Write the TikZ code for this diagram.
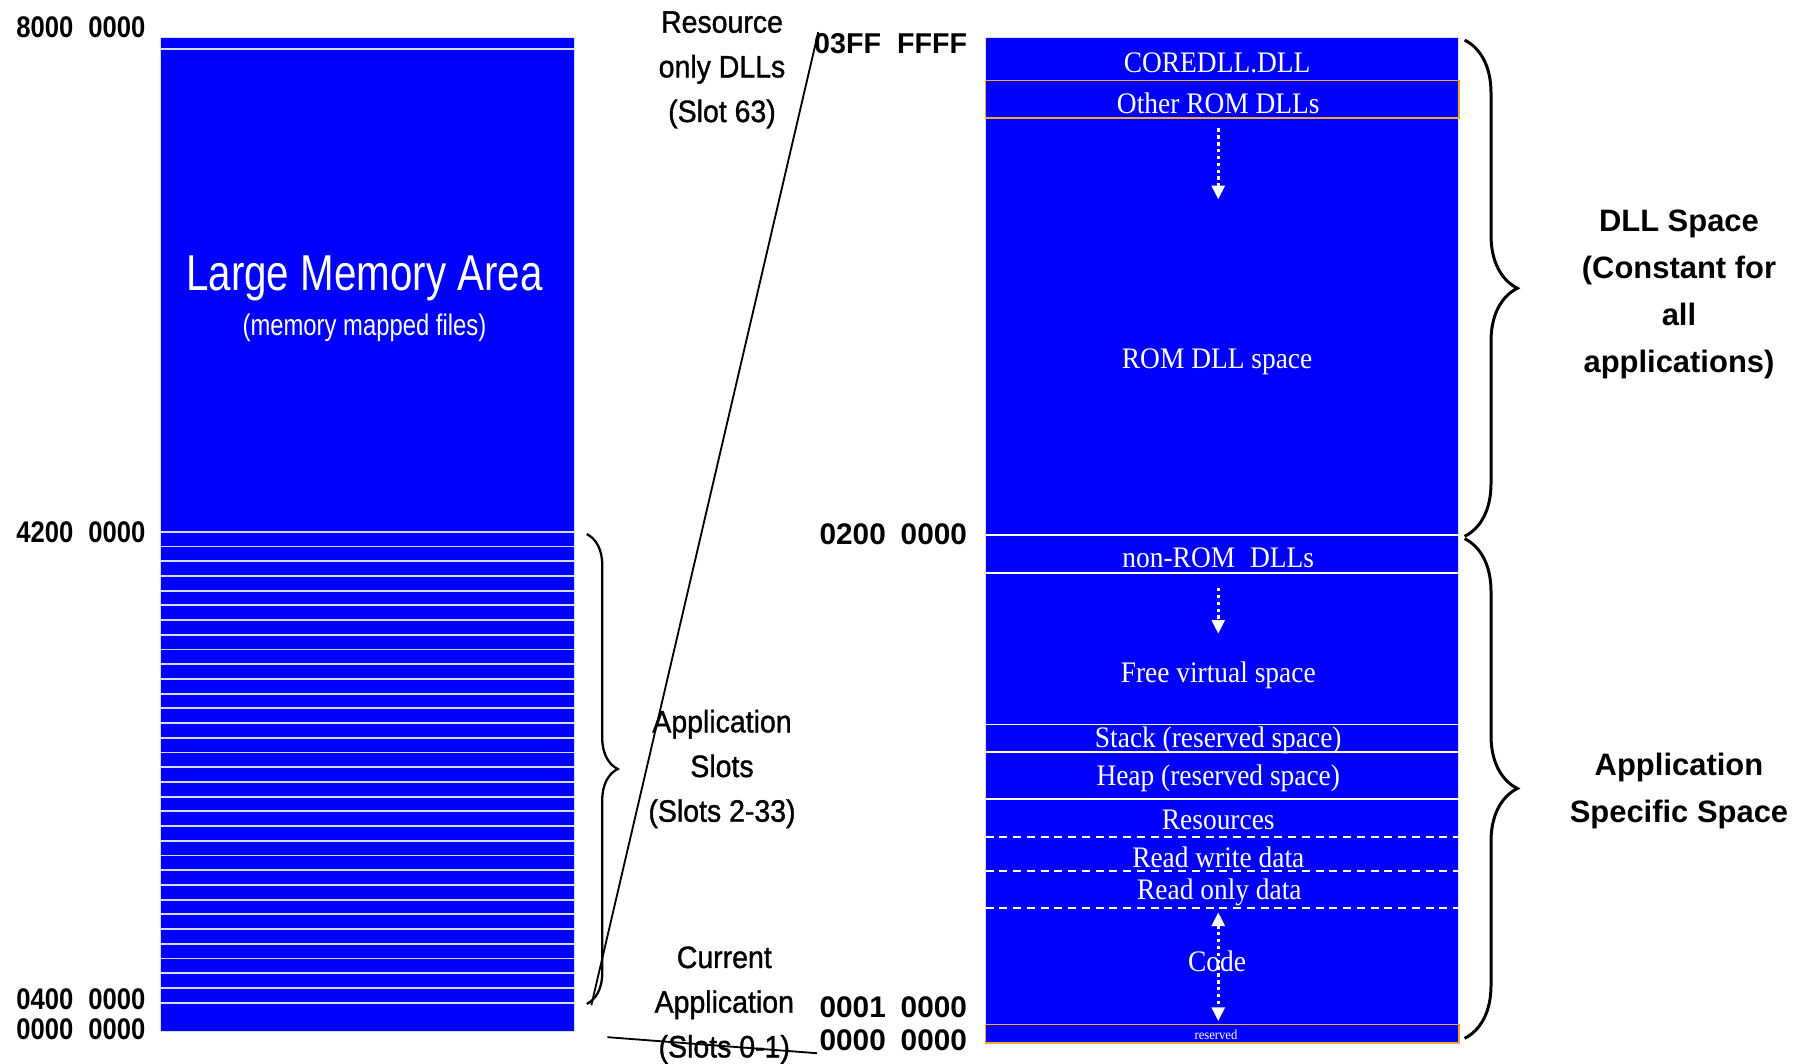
\documentclass[tikz,border=0pt]{standalone}
\usepackage{fontspec}
\setmainfont{Liberation Serif}
\newfontfamily\addrfont[FakeStretch=0.86]{Liberation Sans}
\newfontfamily\headfont{Liberation Sans}
\newfontfamily\notefont[FakeStretch=0.92, FakeBold=1.2]{Liberation Sans}
\newfontfamily\bigfont[FakeStretch=0.8]{Liberation Sans}
\newfontfamily\romfont[FakeStretch=0.92]{Liberation Serif}
\usetikzlibrary{arrows.meta, decorations.pathreplacing, calc}
\definecolor{memblue}{RGB}{0,0,255}
\definecolor{romorange}{RGB}{240,170,60}
\definecolor{slotline}{RGB}{215,220,255}
\tikzset{
  slotsep/.style={draw=slotline, line width=1.6pt},
  secsep/.style={draw=white, line width=1.4pt},
  romsep/.style={draw=romorange, line width=1.2pt},
  partsep/.style={draw=white, line width=1.8pt, dash pattern=on 7pt off 5pt},
  memlabel/.style={text=white, inner sep=0pt, font=\romfont\fontsize{26}{28}\selectfont},
  leftaddr/.style={anchor=east, inner sep=0pt, font=\addrfont\bfseries\fontsize{26}{28}\selectfont},
  rightaddr/.style={anchor=east, inner sep=0pt, font=\headfont\bfseries\fontsize{26}{28}\selectfont},
  slotnote/.style={align=center, inner sep=0pt, font=\notefont\fontsize{27}{39}\selectfont},
  spacenote/.style={align=center, inner sep=0pt, font=\headfont\bfseries\fontsize{27}{41}\selectfont},
  growarrow/.style={white, line width=3pt, dash pattern=on 3pt off 3pt,
    -{Triangle[width=11pt,length=12pt]}},
  zoomline/.style={black, line width=1.6pt},
  spanbrace/.style={decorate, decoration={brace, amplitude=#1}, line width=2.6pt}
}

\begin{document}
\begin{tikzpicture}[x=1pt, y=-1pt]
  \useasboundingbox (0,0) rectangle (1568,928);

  % left map: 2 GB of slots
  \fill[memblue] (140,33) rectangle (501,900);
  \draw[slotline, line width=0.8pt] (140,33) rectangle (501,900);
  \draw[slotsep] (140,43) -- (501,43);
  \foreach \k in {0,...,32}
    \draw[slotsep] (140,464+\k*12.84) -- (501,464+\k*12.84);

  \node[text=white, inner sep=0pt, font=\bigfont\fontsize{44}{46}\selectfont]
    (large) at (318,243) {Large Memory Area};
  \node[text=white, inner sep=0pt, font=\bigfont\fontsize{26}{28}\selectfont]
    (mapped) at (318,286) {(memory mapped files)};

  \node[leftaddr] (a8000) at (127,24)  {8000\enspace0000};
  \node[leftaddr] (a4200) at (127,464) {4200\enspace0000};
  \node[leftaddr] (a0400) at (127,872) {0400\enspace0000};
  \node[leftaddr] (a0000) at (127,898) {0000\enspace0000};

  \draw[spanbrace=27pt, line width=2pt] (512,466) -- (512,876);

  \node[slotnote] (resdll)  at (630,61)  {Resource\\only DLLs\\(Slot 63)};
  \node[slotnote] (appslot) at (630,671) {Application\\Slots\\(Slots 2-33)};
  \node[slotnote] (curapp)  at (632,877) {Current\\Application\\(Slots 0-1)};

  % right map: one 32 MB slot
  \fill[memblue] (860,33) rectangle (1273,910);
  \draw[slotline, line width=0.8pt] (860,33) rectangle (1273,910);
  \draw[romsep] (860,70) rectangle (1273,103);
  \draw[secsep] (860,467) -- (1273,467);
  \draw[secsep] (860,500) -- (1275,500);
  \draw[secsep] (860,632) -- (1273,632);
  \draw[secsep] (860,656) -- (1273,656);
  \draw[secsep] (860,697) -- (1273,697);
  \draw[partsep] (860,730) -- (1273,730);
  \draw[partsep] (860,760) -- (1273,760);
  \draw[partsep] (860,792) -- (1273,792);
  \draw[romsep] (860,894) rectangle (1273,910);

  \coordinate (romgrow) at (1063,112);
  \coordinate (romend)  at (1063,174);
  \coordinate (freegrow) at (1063,513);
  \coordinate (freeend)  at (1063,553);
  \coordinate (codetop) at (1063,796);
  \coordinate (codebot) at (1063,891);
  \draw[growarrow] (romgrow) -- (romend);
  \draw[growarrow] (freegrow) -- (freeend);
  \draw[growarrow, {Triangle[width=11pt,length=12pt]}-{Triangle[width=11pt,length=12pt]}]
    (codetop) -- (codebot);

  \node[memlabel] (coredll) at (1062,55)  {COREDLL.DLL};
  \node[memlabel] (romdlls) at (1063,90)  {Other ROM DLLs};
  \node[memlabel] (romspace) at (1062,316) {ROM DLL space};
  \node[memlabel] (nonrom)  at (1063,487) {non-ROM\enspace DLLs};
  \node[memlabel] (freevs)  at (1063,589) {Free virtual space};
  \node[memlabel] (stack)   at (1063,646) {Stack (reserved space)};
  \node[memlabel] (heap)    at (1063,679) {Heap (reserved space)};
  \node[memlabel] (rsrc)    at (1063,715) {Resources};
  \node[memlabel] (rwdata)  at (1063,748) {Read write data};
  \node[memlabel] (rodata)  at (1064,779) {Read only data};
  \node[memlabel] (code)    at (1062,839) {Code};
  \node[memlabel, font=\romfont\fontsize{12}{13}\selectfont] (resv) at (1061,903) {reserved};

  \node[rightaddr, font=\headfont\bfseries\fontsize{25}{28}\selectfont] (a03ff) at (844,38) {03FF\ \ FFFF};
  \node[rightaddr] (a0200) at (844,466) {0200\enspace0000};
  \node[rightaddr] (a0001) at (844,879) {0001\enspace0000};
  \node[rightaddr] (b0000) at (844,908) {0000\enspace0000};

  \draw[spanbrace=46pt] (1278,35) -- (1278,468);
  \draw[spanbrace=46pt] (1278,470) -- (1278,906);

  \node[spacenote] (dllspace) at (1465,257) {DLL Space\\(Constant for\\all\\applications)};
  \node[spacenote] (appspace) at (1465,690) {Application\\Specific Space};

  % zoom lines between the two maps
  \coordinate (slottop) at (516,877);
  \coordinate (slotbot) at (530,905);
  \coordinate (dlltop)  at (714,28);
  \coordinate (dllbot)  at (713,919);
  \draw[zoomline] (slottop) -- (dlltop);
  \draw[zoomline] (slotbot) -- (dllbot);
\end{tikzpicture}
\end{document}
